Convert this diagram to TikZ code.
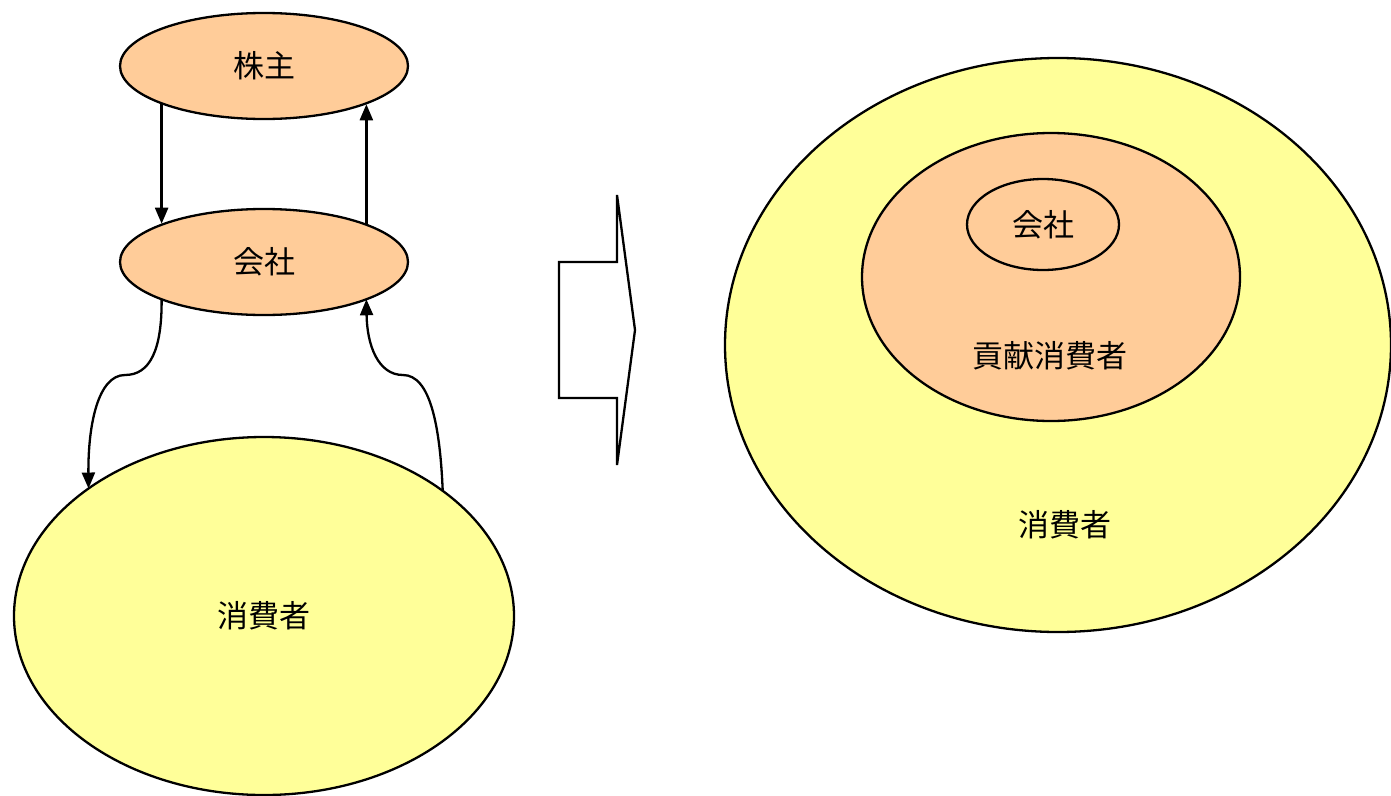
\documentclass[tikz,border=0pt]{standalone}
\usepackage{fontspec}
\newfontfamily\cjk{Noto Sans CJK JP}
\usetikzlibrary{shapes.geometric,arrows.meta}
\definecolor{peach}{HTML}{FFCC99}
\definecolor{paleyellow}{HTML}{FFFF99}
\begin{document}
\begin{tikzpicture}[x=1pt,y=-1pt,
  oval/.style={ellipse,draw=black,line width=2.3pt,inner sep=0pt,outer sep=0pt,
    font=\cjk\fontsize{31}{31}\selectfont},
  lbl/.style={font=\cjk\fontsize{31}{31}\selectfont,inner sep=0pt},
  arr/.style={line width=2.3pt,-{Triangle[length=16pt,width=13pt]}}]
\useasboundingbox (0,0) rectangle (1391,795);
% left side
\node[oval,fill=peach,minimum width=288pt,minimum height=106pt] (kabu) at (264,66) {株主};
\node[oval,fill=peach,minimum width=288pt,minimum height=106pt] (kaisha) at (264,262) {会社};
\node[oval,fill=paleyellow,minimum width=500pt,minimum height=358pt] (shohi) at (264,616) {消費者};
\draw[arr] (kabu.200.1) -- (kabu.200.1 |- kaisha.159.9);
\draw[arr] (kaisha.20.1) -- (kaisha.20.1 |- kabu.339.9);
\coordinate (bendL) at (125,375);
\coordinate (bendR) at (403,375);
\draw[arr] (kaisha.200.1) .. controls (162,350) and (150,375) .. (bendL)
  .. controls (98,375) and (88,425) .. (shohi.144.2);
\draw[arr] (shohi.35.8) .. controls (440,425) and (430,375) .. (bendR)
  .. controls (378,375) and (367,345) .. (kaisha.340.2);
% big arrow
\draw[line width=2.3pt,line join=miter,fill=white] (617,195) -- (617,262) -- (559,262) -- (559,398) -- (617,398) -- (617,465) -- (635,330) -- cycle;
% right side
\node[oval,fill=paleyellow,minimum width=666pt,minimum height=574pt] (outer) at (1058,345) {};
\node[oval,fill=peach,minimum width=378pt,minimum height=288pt] (mid) at (1051,277) {};
\node[oval,fill=peach,minimum width=152pt,minimum height=91pt] (inner) at (1043,224.5) {会社};
\node[lbl] (kouken) at (1050,356) {貢献消費者};
\node[lbl] (shohiR) at (1065,525) {消費者};
\end{tikzpicture}
\end{document}
